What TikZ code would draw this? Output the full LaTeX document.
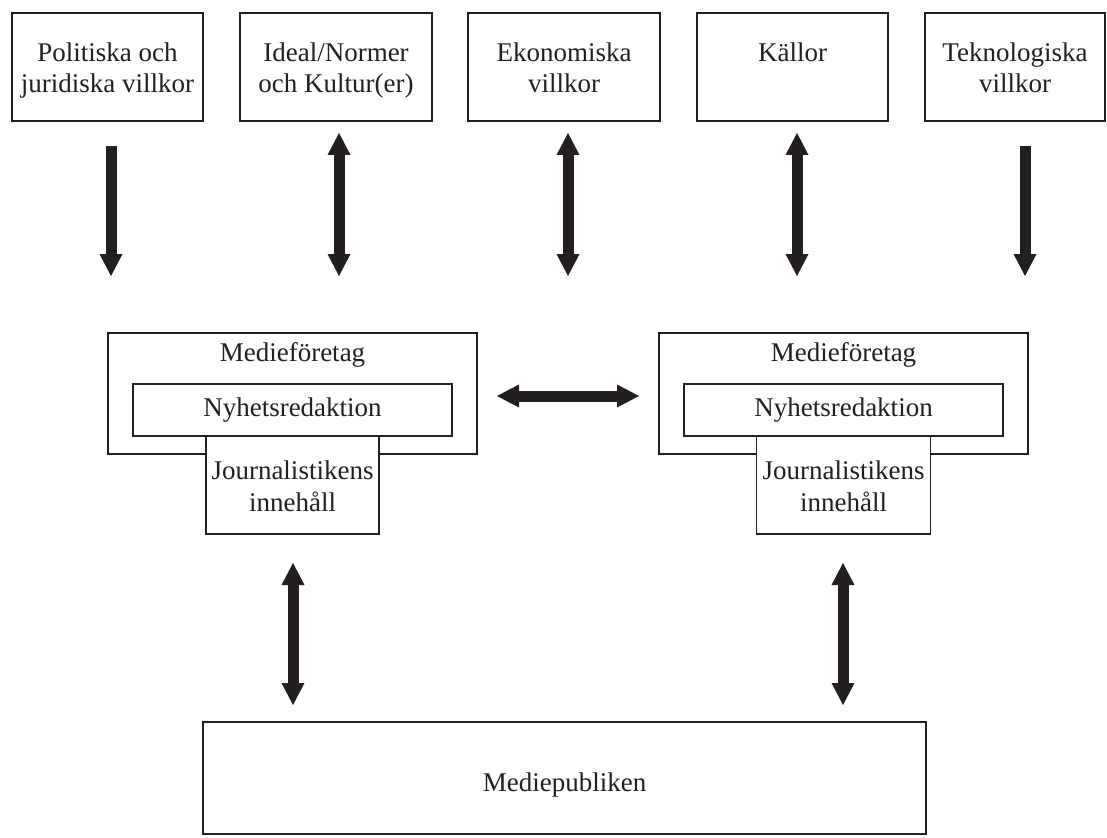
\documentclass[tikz,border=0pt]{standalone}
\usepackage{fontspec}
\setmainfont{Liberation Serif}
\usetikzlibrary{arrows.meta}
\definecolor{ink}{HTML}{231F20}
\begin{document}
\begin{tikzpicture}[x=1pt,y=-1pt,
  box/.style={draw=ink,line width=1.6pt,fill=white,inner sep=0pt,rectangle},
  txt/.style={font=\fontsize{27}{31}\selectfont,text=ink,inner sep=0pt,anchor=base},
  bigarrow/.style={ink,line width=11pt,line cap=butt},
  tipA/.tip={Triangle[width=23pt,length=22pt,line width=0pt]}
]
\useasboundingbox (0,0) rectangle (1107,837);
% top boxes
\node[box,minimum width=191pt,minimum height=108pt] (pol) at (107.5,67) {};
\node[box,minimum width=192pt,minimum height=108pt] (ide) at (336,67) {};
\node[box,minimum width=192pt,minimum height=108pt] (eko) at (564,67) {};
\node[box,minimum width=191pt,minimum height=108pt] (kal) at (792.5,67) {};
\node[box,minimum width=180pt,minimum height=108pt] (tek) at (1015,67) {};
\node[txt] (pol1) at (107.5,62) {Politiska och};
\node[txt] (pol2) at (107.5,93) {juridiska villkor};
\node[txt] (ide1) at (336,62) {Ideal/Normer};
\node[txt] (ide2) at (336,93) {och Kultur(er)};
\node[txt] (eko1) at (564,62) {Ekonomiska};
\node[txt] (eko2) at (564,93) {villkor};
\node[txt] (kal1) at (792.5,62) {Källor};
\node[txt] (tek1) at (1015,62) {Teknologiska};
\node[txt] (tek2) at (1015,93) {villkor};
% media groups
\node[box,minimum width=369pt,minimum height=121pt] (mfL) at (292.5,393.5) {};
\node[box,minimum width=319pt,minimum height=52pt] (nyL) at (292.5,410) {};
\node[box,minimum width=173pt,minimum height=98pt] (joL) at (292.5,485) {};
\node[txt] (mfLt) at (292.5,361) {Medieföretag};
\node[txt] (nyLt) at (292.5,416) {Nyhetsredaktion};
\node[txt] (joLt1) at (292.5,479) {Journalistikens};
\node[txt] (joLt2) at (292.5,511) {innehåll};
\node[box,minimum width=369pt,minimum height=121pt] (mfR) at (843.5,393.5) {};
\node[box,minimum width=319pt,minimum height=52pt] (nyR) at (843.5,410) {};
\node[box,minimum width=174pt,minimum height=98pt] (joR) at (843.5,485) {};
\node[txt] (mfRt) at (843.5,361) {Medieföretag};
\node[txt] (nyRt) at (843.5,416) {Nyhetsredaktion};
\node[txt] (joRt1) at (843.5,479) {Journalistikens};
\node[txt] (joRt2) at (843.5,511) {innehåll};
% audience
\node[box,minimum width=723pt,minimum height=112pt] (pub) at (564.5,778) {};
\node[txt] (pubt) at (564.5,791) {Mediepubliken};
% arrow end points
\coordinate (a1s) at (111,146); \coordinate (a1e) at (111,276);
\coordinate (a2s) at (339,133); \coordinate (a2e) at (339,276);
\coordinate (a3s) at (568,133); \coordinate (a3e) at (568,276);
\coordinate (a4s) at (797,133); \coordinate (a4e) at (797,276);
\coordinate (a5s) at (1025,146); \coordinate (a5e) at (1025,276);
\coordinate (hs) at (497,396); \coordinate (he) at (639,396);
\coordinate (b1s) at (293,563); \coordinate (b1e) at (293,705);
\coordinate (b2s) at (843,563); \coordinate (b2e) at (843,705);
\draw[bigarrow,-tipA] (a1s) -- (a1e);
\draw[bigarrow,tipA-tipA] (a2s) -- (a2e);
\draw[bigarrow,tipA-tipA] (a3s) -- (a3e);
\draw[bigarrow,tipA-tipA] (a4s) -- (a4e);
\draw[bigarrow,-tipA] (a5s) -- (a5e);
\draw[bigarrow,tipA-tipA] (hs) -- (he);
\draw[bigarrow,tipA-tipA] (b1s) -- (b1e);
\draw[bigarrow,tipA-tipA] (b2s) -- (b2e);
\end{tikzpicture}
\end{document}
